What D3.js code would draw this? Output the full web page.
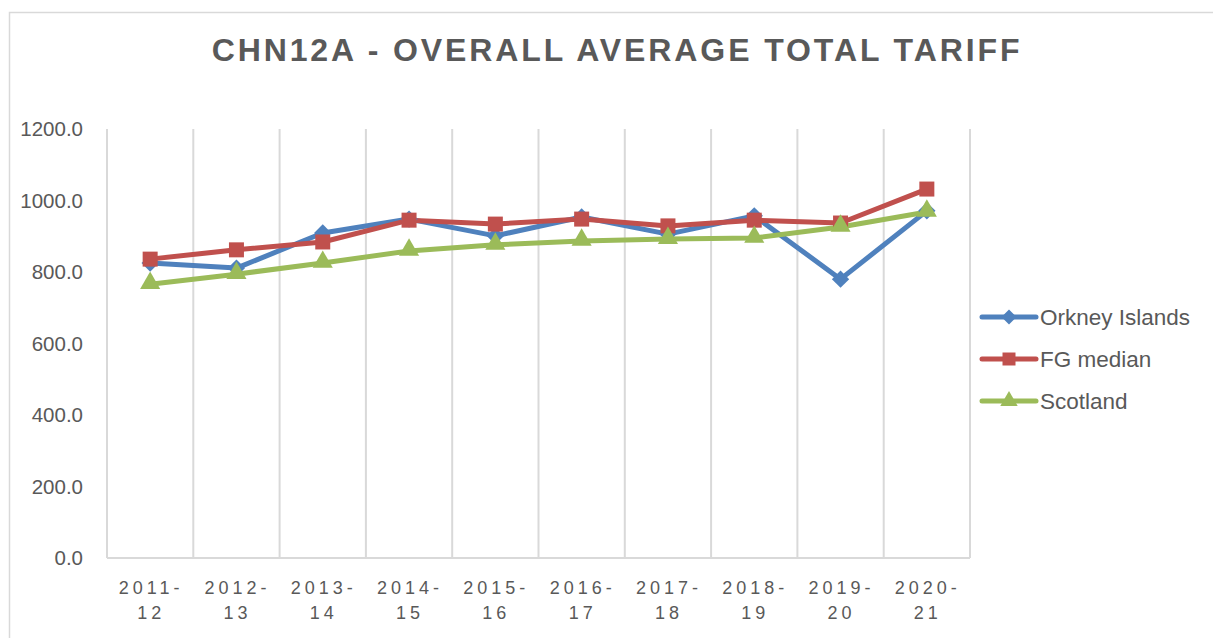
<!DOCTYPE html>
<meta charset="utf-8">
<html>
<head>
<title>CHN12A - Overall average total tariff</title>
<script src="https://d3js.org/d3.v7.min.js"></script>
<style>
body {
  margin: 0;
  background: #fff;
}
text {
  font-family: "Liberation Sans", Arial, sans-serif;
  fill: #595959;
}
</style>
</head>
<body>
<div id="chart"></div>

<script>
// data
var years = ["2011-12", "2012-13", "2013-14", "2014-15", "2015-16",
             "2016-17", "2017-18", "2018-19", "2019-20", "2020-21"];
var orkney = [825, 811, 909, 948, 901, 954, 906, 957, 780, 971];
var fgMedian = [836, 862, 884, 945, 934, 948, 929, 945, 937, 1032];
var scotland = [766, 794, 825, 859, 876, 887, 892, 895, 926, 968];
var yTicks = [0, 200, 400, 600, 800, 1000, 1200];

// diamond = square turned 45deg, like the office marker
var series = [
  { name: "Orkney Islands", values: orkney, color: "#4f81bd", symbol: d3.symbolSquare, size: 150, rot: 45 },
  { name: "FG median", values: fgMedian, color: "#c0504d", symbol: d3.symbolSquare, size: 225, rot: 0 },
  { name: "Scotland", values: scotland, color: "#9bbb59", symbol: d3.symbolTriangle, size: 175, rot: 0 }
];

var width = 1213, height = 638;

var svg = d3.select("#chart")
  .append("svg")
  .attr("width", width)
  .attr("height", height);

// chart frame
svg.append("rect")
  .attr("x", 9.5)
  .attr("y", 12.5)
  .attr("width", width + 20)
  .attr("height", height + 20)
  .attr("fill", "none")
  .attr("stroke", "#d9d9d9")
  .attr("stroke-width", 1.5);

// title
svg.append("text")
  .attr("x", 617)
  .attr("y", 61)
  .attr("text-anchor", "middle")
  .style("font-size", "32px")
  .style("font-weight", "bold")
  .style("letter-spacing", "2.9px")
  .text("CHN12A - OVERALL AVERAGE TOTAL TARIFF");

var x = d3.scaleBand()
  .domain(years)
  .range([107, 970])
  .padding(0);

var y = d3.scaleLinear()
  .domain([0, 1200])
  .range([558, 129]);

// vertical gridlines at category borders
var borders = years.map(function (d) { return x(d); }).concat([x.range()[1]]);
svg.append("g")
  .selectAll("line")
  .data(borders)
  .enter().append("line")
  .attr("x1", function (d) { return d; })
  .attr("x2", function (d) { return d; })
  .attr("y1", y(1200))
  .attr("y2", y(0))
  .attr("stroke", "#d9d9d9")
  .attr("stroke-width", 2);

// baseline
svg.append("line")
  .attr("x1", x.range()[0])
  .attr("x2", x.range()[1])
  .attr("y1", y(0))
  .attr("y2", y(0))
  .attr("stroke", "#d9d9d9")
  .attr("stroke-width", 2);

// y axis labels
var yAxis = svg.append("g")
  .attr("transform", "translate(86,0)")
  .call(d3.axisLeft(y).tickValues(yTicks).tickFormat(d3.format(".1f")).tickSize(0).tickPadding(3));
yAxis.select(".domain").remove();
yAxis.selectAll("text")
  .style("font-size", "20.5px")
  .style("font-family", "'Liberation Sans', Arial, sans-serif")
  .attr("fill", "#595959");

// x axis labels, split over two lines
var xLab = svg.append("g")
  .selectAll("text")
  .data(years)
  .enter().append("text")
  .attr("text-anchor", "middle")
  .style("font-size", "18px")
  .style("letter-spacing", "4px");
xLab.append("tspan")
  .attr("x", function (d) { return x(d) + x.bandwidth() / 2 + 1; })
  .attr("y", 594)
  .text(function (d) { return d.split("-")[0] + "-"; });
xLab.append("tspan")
  .attr("x", function (d) { return x(d) + x.bandwidth() / 2 + 1; })
  .attr("y", 619)
  .text(function (d) { return d.split("-")[1]; });

// lines and markers
var line = d3.line()
  .x(function (d, i) { return x(years[i]) + x.bandwidth() / 2; })
  .y(function (d) { return y(d); });

series.forEach(function (s) {
  svg.append("path")
    .datum(s.values)
    .attr("fill", "none")
    .attr("stroke", s.color)
    .attr("stroke-width", 5)
    .attr("stroke-linejoin", "round")
    .attr("d", line);
});

series.forEach(function (s) {
  var sym = d3.symbol().type(s.symbol).size(s.size);
  svg.append("g")
    .selectAll("path")
    .data(s.values)
    .enter().append("path")
    .attr("transform", function (d, i) {
      var dy = s.symbol === d3.symbolTriangle ? -1 : 0;
      return "translate(" + (x(years[i]) + x.bandwidth() / 2) + "," + (y(d) + dy) + ") rotate(" + s.rot + ")";
    })
    .attr("d", sym)
    .attr("fill", s.color);
});

// legend
var legend = svg.append("g")
  .selectAll("g")
  .data(series)
  .enter().append("g")
  .attr("transform", function (d, i) { return "translate(982," + (317 + i * 42) + ")"; });

legend.append("line")
  .attr("x1", 0)
  .attr("x2", 54)
  .attr("stroke", function (d) { return d.color; })
  .attr("stroke-width", 5)
  .attr("stroke-linecap", "round");

legend.append("path")
  .attr("transform", function (d) { return "translate(27,0) rotate(" + d.rot + ")"; })
  .attr("d", function (d) { return d3.symbol().type(d.symbol).size(d.size * 0.75)(); })
  .attr("fill", function (d) { return d.color; });

legend.append("text")
  .attr("x", 58)
  .attr("dy", "0.36em")
  .style("font-size", "22.5px")
  .text(function (d) { return d.name; });
</script>
</body>
</html>
